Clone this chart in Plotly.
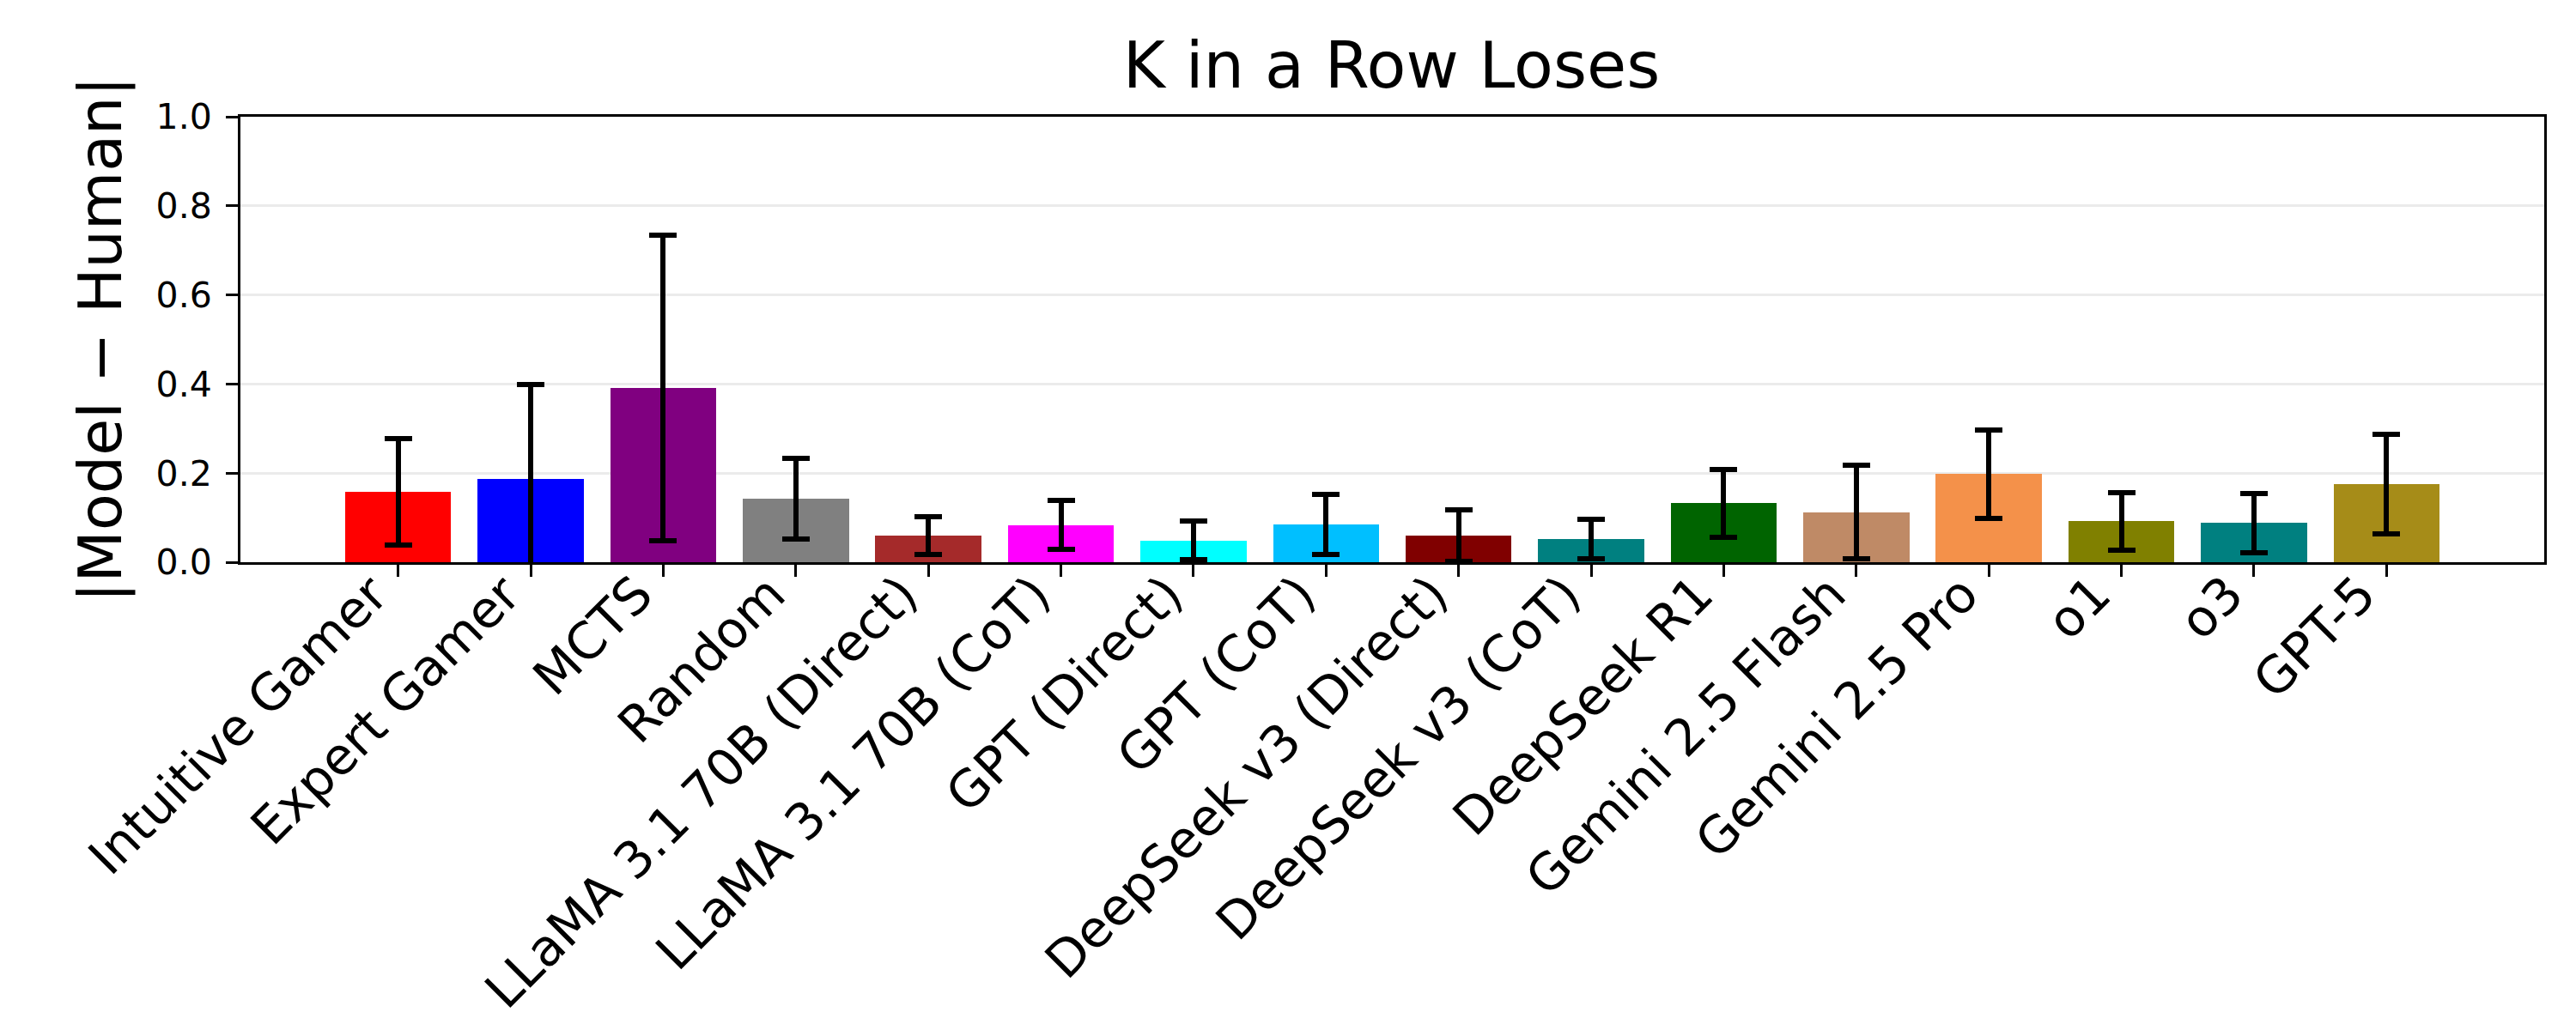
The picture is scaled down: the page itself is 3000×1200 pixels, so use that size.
import plotly.graph_objects as go

labels = ["Intuitive Gamer", "Expert Gamer", "MCTS", "Random",
          "LLaMA 3.1 70B (Direct)", "LLaMA 3.1 70B (CoT)", "GPT (Direct)", "GPT (CoT)",
          "DeepSeek v3 (Direct)", "DeepSeek v3 (CoT)", "DeepSeek R1", "Gemini 2.5 Flash",
          "Gemini 2.5 Pro", "o1", "o3", "GPT-5"]
values = [0.158, 0.186, 0.391, 0.143, 0.060, 0.083, 0.049, 0.085,
          0.060, 0.052, 0.132, 0.112, 0.198, 0.092, 0.088, 0.175]
errors = [0.120, 0.212, 0.343, 0.091, 0.042, 0.055, 0.044, 0.068,
          0.058, 0.044, 0.077, 0.105, 0.099, 0.065, 0.066, 0.112]
colors = ["#FF0000", "#0000FF", "#800080", "#808080", "#A52A2A", "#FF00FF", "#00FFFF", "#00BFFF",
          "#800000", "#008080", "#006400", "#BF8A66", "#F4914A", "#808000", "#008080", "#A68C18"]

positions = list(range(len(labels)))

fig = go.Figure()
fig.add_trace(go.Bar(
    x=positions, y=values, width=0.8,
    marker=dict(color=colors, line=dict(width=0)),
    error_y=dict(type="data", array=errors, visible=True, color="black", thickness=6, width=16),
    cliponaxis=True,
    showlegend=False,
))

font_family = "DejaVu Sans"
fig.update_layout(
    width=3000, height=1200,
    margin=dict(l=272, r=45, t=128, b=553, pad=0),
    paper_bgcolor="white", plot_bgcolor="white",
    font=dict(family=font_family, color="black"),
    title=dict(text="K in a Row Loses", x=0.5375, xanchor="center", y=1 - 68 / 1200,
               yanchor="middle", yref="container", font=dict(size=75, family=font_family)),
    bargap=0,
)
fig.update_xaxes(
    range=[-1.19, 16.19], tickmode="array", tickvals=positions, ticktext=labels,
    tickangle=-45, tickfont=dict(size=59, family=font_family),
    ticklabelshift=-30, ticklabelstandoff=-38,
    ticks="outside", ticklen=14, tickwidth=3, tickcolor="black", automargin=False,
    showline=True, linecolor="black", linewidth=3, mirror=True,
    showgrid=False, zeroline=False,
)
fig.update_yaxes(
    range=[0, 1.0], tickmode="array", tickvals=[0, 0.2, 0.4, 0.6, 0.8, 1.0],
    ticktext=["0.0", "0.2", "0.4", "0.6", "0.8", "1.0"],
    tickfont=dict(size=41, family=font_family), automargin=False,
    ticks="outside", ticklen=14, tickwidth=3, tickcolor="black", ticklabelstandoff=8,
    showline=True, linecolor="black", linewidth=3, mirror=True,
    showgrid=True, gridcolor="#EBEBEB", gridwidth=3, zeroline=False,
    title=dict(text="|Model − Human|", font=dict(size=70, family=font_family), standoff=18),
)

fig.write_html("out.html")
